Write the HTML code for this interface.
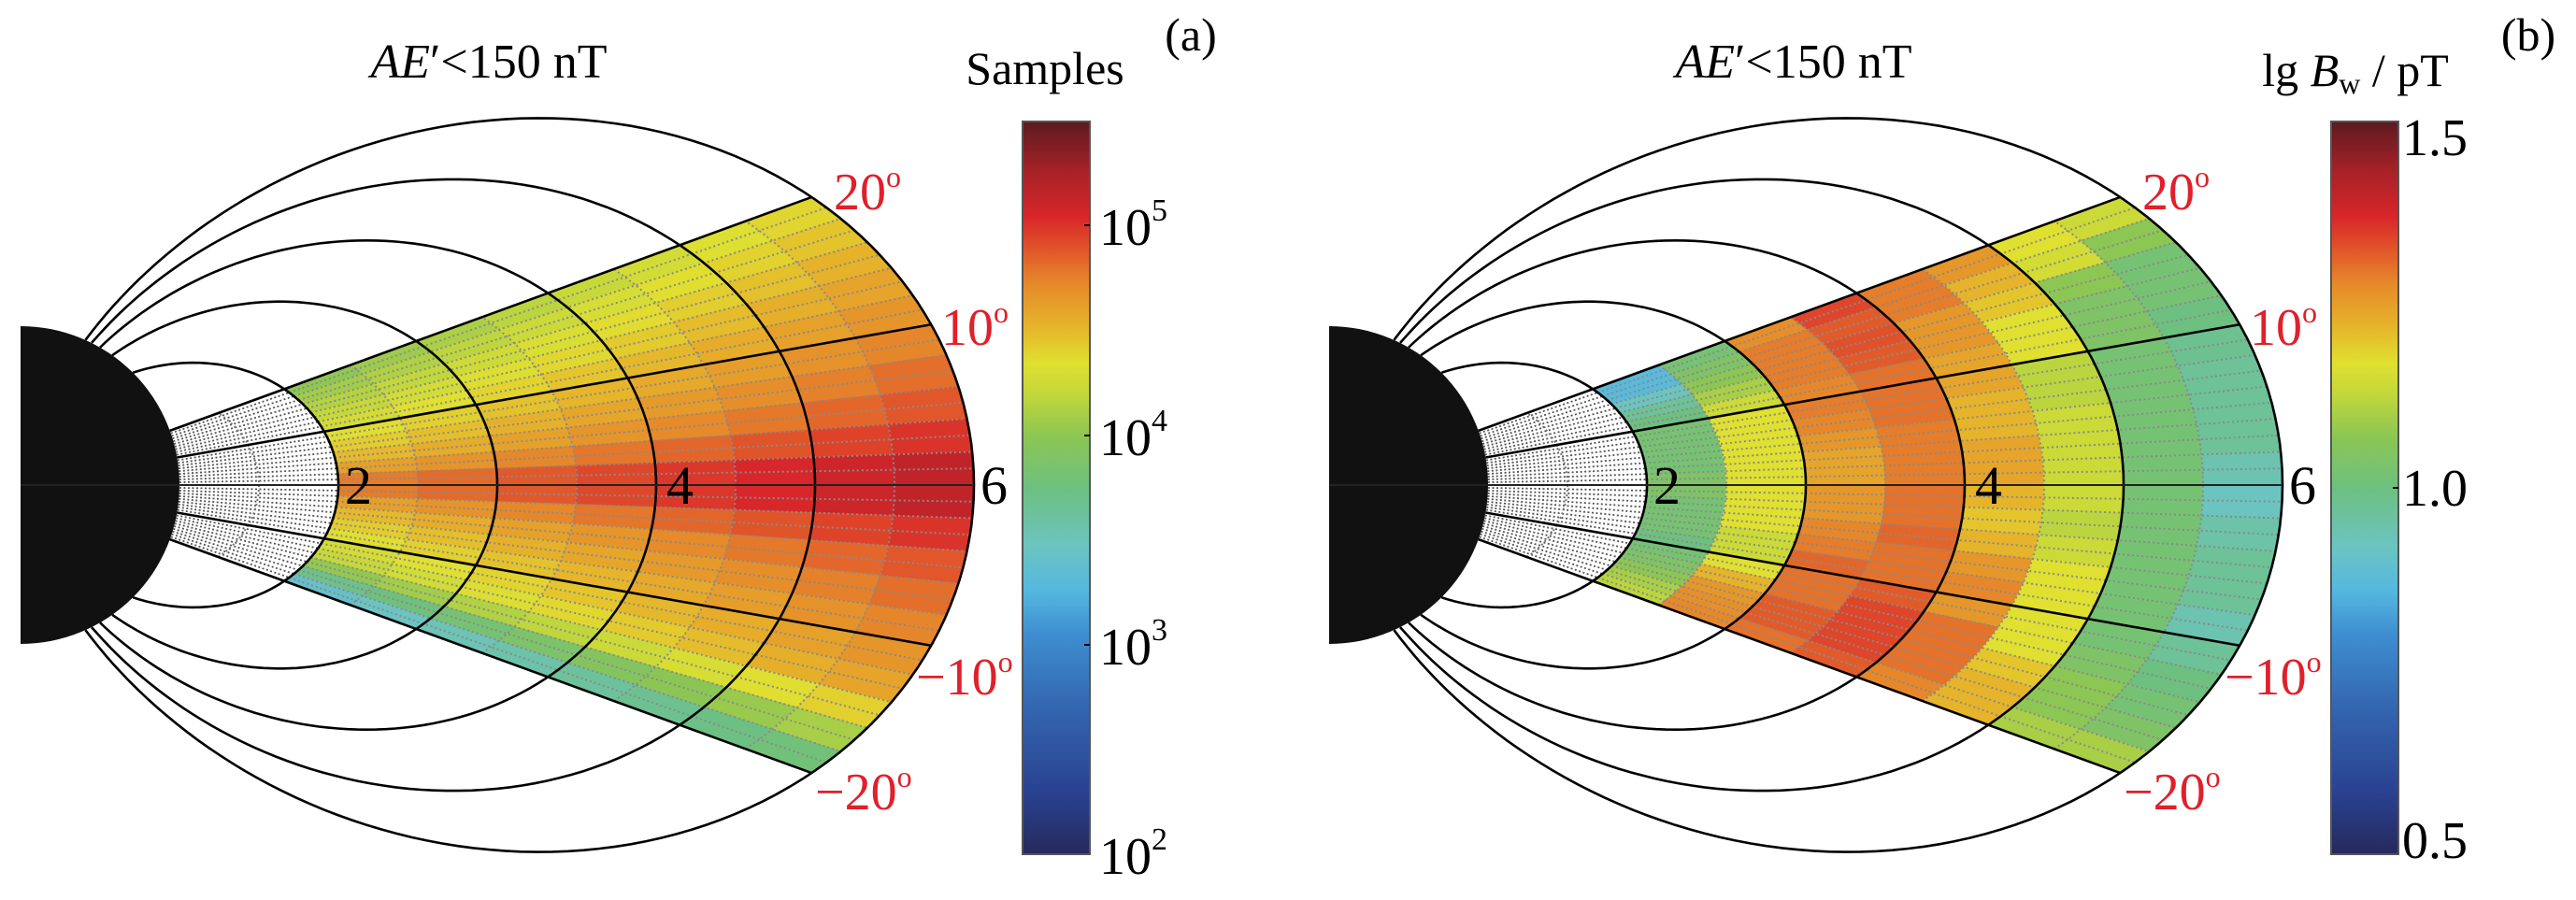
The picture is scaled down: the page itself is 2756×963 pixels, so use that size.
<!DOCTYPE html>
<html><head><meta charset="utf-8">
<style>
html,body{margin:0;padding:0;background:#fff;}
svg{display:block;}
text{font-family:"Liberation Serif","DejaVu Serif",serif;}
</style></head>
<body>
<svg id="s" width="2756" height="963" viewBox="0 0 2756 963" xmlns="http://www.w3.org/2000/svg" font-family="Liberation Serif, DejaVu Serif, serif">
<defs>
<linearGradient id="cm" x1="0" y1="1" x2="0" y2="0">
<stop offset="0" stop-color="#262a5c"/>
<stop offset="0.08" stop-color="#29408f"/>
<stop offset="0.2" stop-color="#3466b0"/>
<stop offset="0.3" stop-color="#3e8ecf"/>
<stop offset="0.36" stop-color="#55b8e0"/>
<stop offset="0.42" stop-color="#6cc4c0"/>
<stop offset="0.5" stop-color="#6dc080"/>
<stop offset="0.57" stop-color="#8cc653"/>
<stop offset="0.63" stop-color="#c4d83a"/>
<stop offset="0.67" stop-color="#e0e030"/>
<stop offset="0.72" stop-color="#e6b42a"/>
<stop offset="0.78" stop-color="#e6882a"/>
<stop offset="0.83" stop-color="#e0502a"/>
<stop offset="0.87" stop-color="#d8262a"/>
<stop offset="0.93" stop-color="#a82228"/>
<stop offset="1" stop-color="#5c1a20"/>
</linearGradient>
</defs>
<g id="pa"></g>
<g id="pb"></g>

<text x="523" y="83" font-size="52" text-anchor="middle"><tspan font-style="italic">AE</tspan>′&lt;150 nT</text>
<text x="1118" y="90" font-size="50" text-anchor="middle">Samples</text>
<text x="1274" y="54" font-size="50" text-anchor="middle">(a)</text>
<rect x="1094" y="130" width="72" height="784" fill="url(#cm)" stroke="#555" stroke-width="2"/>
<line x1="1160" y1="241" x2="1166" y2="241" stroke="#000" stroke-width="2"/>
<line x1="1160" y1="466" x2="1166" y2="466" stroke="#000" stroke-width="2"/>
<line x1="1160" y1="690" x2="1166" y2="690" stroke="#000" stroke-width="2"/>
<text x="1176" y="262" font-size="56">10<tspan font-size="34" dy="-26">5</tspan></text>
<text x="1176" y="487" font-size="56">10<tspan font-size="34" dy="-26">4</tspan></text>
<text x="1176" y="711" font-size="56">10<tspan font-size="34" dy="-26">3</tspan></text>
<text x="1176" y="935" font-size="56">10<tspan font-size="34" dy="-26">2</tspan></text>
<text x="369" y="539" font-size="58">2</text>
<text x="713" y="539" font-size="58">4</text>
<text x="1049" y="539" font-size="58">6</text>
<g fill="#e0202a" font-size="56">
<text x="892" y="224">20<tspan font-size="32" dy="-24">o</tspan></text>
<text x="1007" y="369">10<tspan font-size="32" dy="-24">o</tspan></text>
<text x="980" y="743">−10<tspan font-size="32" dy="-24">o</tspan></text>
<text x="872" y="866">−20<tspan font-size="32" dy="-24">o</tspan></text>
</g>

<text x="1919" y="83" font-size="52" text-anchor="middle"><tspan font-style="italic">AE</tspan>′&lt;150 nT</text>
<text x="2520" y="92" font-size="50" text-anchor="middle">lg <tspan font-style="italic">B</tspan><tspan font-size="32" dy="8">w</tspan><tspan dy="-8"> / pT</tspan></text>
<text x="2705" y="54" font-size="50" text-anchor="middle">(b)</text>
<rect x="2494" y="130" width="72" height="784" fill="url(#cm)" stroke="#555" stroke-width="2"/>
<line x1="2560" y1="522" x2="2566" y2="522" stroke="#000" stroke-width="2"/>
<text x="2570" y="166" font-size="56">1.5</text>
<text x="2570" y="541" font-size="56">1.0</text>
<text x="2570" y="918" font-size="56">0.5</text>
<text x="1769" y="539" font-size="58">2</text>
<text x="2113" y="539" font-size="58">4</text>
<text x="2449" y="539" font-size="58">6</text>
<g fill="#e0202a" font-size="56">
<text x="2292" y="224">20<tspan font-size="32" dy="-24">o</tspan></text>
<text x="2407" y="369">10<tspan font-size="32" dy="-24">o</tspan></text>
<text x="2380" y="743">−10<tspan font-size="32" dy="-24">o</tspan></text>
<text x="2272" y="866">−20<tspan font-size="32" dy="-24">o</tspan></text>
</g>
</svg>
<script>
(function(){
var NS="http://www.w3.org/2000/svg";
var S=170;
var stops=[[0,"#262a5c"],[0.08,"#29408f"],[0.2,"#3466b0"],[0.3,"#3e8ecf"],[0.36,"#55b8e0"],[0.42,"#6cc4c0"],[0.5,"#6dc080"],[0.57,"#8cc653"],[0.63,"#c4d83a"],[0.67,"#e0e030"],[0.72,"#e6b42a"],[0.78,"#e6882a"],[0.83,"#e0502a"],[0.87,"#d8262a"],[0.93,"#a82228"],[1,"#5c1a20"]];
function hx(h){return [parseInt(h.substr(1,2),16),parseInt(h.substr(3,2),16),parseInt(h.substr(5,2),16)];}
function cmap(f){f=Math.max(0,Math.min(1,f));for(var i=1;i<stops.length;i++){if(f<=stops[i][0]){var a=stops[i-1],b=stops[i];var t=(f-a[0])/(b[0]-a[0]);var ca=hx(a[1]),cb=hx(b[1]);return "rgb("+Math.round(ca[0]+(cb[0]-ca[0])*t)+","+Math.round(ca[1]+(cb[1]-ca[1])*t)+","+Math.round(ca[2]+(cb[2]-ca[2])*t)+")";}}return stops[stops.length-1][1];}
function el(g,n,a){var e=document.createElementNS(NS,n);for(var k in a)e.setAttribute(k,a[k]);g.appendChild(e);return e;}
function P(ox,oy,L,lat){var t=lat*Math.PI/180;var r=L*Math.cos(t)*Math.cos(t);return [ox+S*r*Math.cos(t),oy-S*r*Math.sin(t)];}
function R(ox,oy,r,lat){var t=lat*Math.PI/180;return [ox+S*r*Math.cos(t),oy-S*r*Math.sin(t)];}
function fl(ox,oy,L,a,b,n){var p=[];for(var i=0;i<=n;i++){var la=a+(b-a)*i/n;var q=P(ox,oy,L,la);p.push(q[0].toFixed(1)+","+q[1].toFixed(1));}return p;}
var B=[
[0.85,1.0,1.25,1.32,1.27,1.24,1.15,1.12],
[0.85,1.02,1.27,1.3,1.27,1.2,1.13,1.05],
[0.9,1.05,1.27,1.31,1.24,1.18,1.05,1.0],
[0.95,1.08,1.27,1.3,1.24,1.15,1.02,1.0],
[0.98,1.12,1.26,1.28,1.22,1.15,1.02,0.98],
[1.0,1.15,1.27,1.28,1.22,1.1,1.0,0.96],
[1.0,1.15,1.26,1.28,1.2,1.1,1.0,0.95],
[1.0,1.15,1.24,1.27,1.2,1.12,1.0,0.95],
[1.0,1.15,1.22,1.27,1.22,1.12,1.0,0.95],
[1.02,1.15,1.22,1.27,1.22,1.12,1.0,0.92],
[1.02,1.15,1.24,1.28,1.2,1.12,1.0,0.9],
[1.0,1.15,1.24,1.28,1.18,1.1,1.0,0.93],
[1.0,1.15,1.26,1.29,1.2,1.12,1.0,0.95],
[1.0,1.12,1.27,1.28,1.24,1.15,1.0,0.95],
[0.98,1.12,1.29,1.28,1.26,1.15,1.0,0.92],
[1.0,1.15,1.28,1.3,1.24,1.15,1.0,0.95],
[1.02,1.2,1.28,1.32,1.28,1.15,1.02,0.98],
[1.05,1.24,1.3,1.32,1.28,1.18,1.05,1.0],
[1.08,1.25,1.3,1.32,1.28,1.2,1.05,1.02],
[1.1,1.26,1.28,1.3,1.26,1.2,1.08,1.08]];
function valA(L,lat){var v=4.64+0.11*(L-2)-0.035*Math.abs(lat)+0.15*Math.exp(-(lat/3)*(lat/3));if(lat<-14)v-=0.12*(Math.abs(lat)-14);return (v-2)/3.5;}
function panel(id,ox,oy,fn){
var g=document.getElementById(id);
for(var r=0;r<20;r++){var la2=20-2*r,la1=la2-2;
for(var c=0;c<8;c++){var L1=2+0.5*c,L2=L1+0.5;
var f=fn(r,c,(L1+L2)/2,(la1+la2)/2);var col=cmap(f);
var p=fl(ox,oy,L1,la1,la2,4).concat(fl(ox,oy,L2,la2,la1,4));
el(g,"polygon",{points:p.join(" "),fill:col,stroke:col,"stroke-width":"0.8"});}}
for(var la=-19;la<=19;la++){if(la%10===0)continue;var a=P(ox,oy,2,la),b=P(ox,oy,6,la);
el(g,"line",{x1:a[0],y1:a[1],x2:b[0],y2:b[1],stroke:"#8a8a8a","stroke-width":"2","stroke-dasharray":"2,3"});}
[2.5,3.5,4.5,5.5].forEach(function(L){el(g,"polyline",{points:fl(ox,oy,L,-20,20,40).join(" "),fill:"none",stroke:"#8a8a8a","stroke-width":"2","stroke-dasharray":"2,3"});});
for(var la=-19;la<=19;la++){if(la%10===0)continue;var a=R(ox,oy,1,la),b=P(ox,oy,2,la);
el(g,"line",{x1:a[0],y1:a[1],x2:b[0],y2:b[1],stroke:"#555","stroke-width":"1.8","stroke-dasharray":"2,2.5"});}
el(g,"polyline",{points:fl(ox,oy,1.5,-20,20,40).join(" "),fill:"none",stroke:"#777","stroke-width":"2","stroke-dasharray":"2,3"});
[2,3,4,5,6].forEach(function(L){var m=Math.acos(Math.sqrt(1/L))*180/Math.PI;
el(g,"polyline",{points:fl(ox,oy,L,-m,m,160).join(" "),fill:"none",stroke:"#000","stroke-width":"2.6"});});
[-20,-10,10,20].forEach(function(la){var a=R(ox,oy,1,la),b=P(ox,oy,6,la);
el(g,"line",{x1:a[0],y1:a[1],x2:b[0],y2:b[1],stroke:"#000","stroke-width":"2.6"});});
el(g,"path",{d:"M"+ox+","+(oy-S)+" A"+S+","+S+" 0 0 1 "+ox+","+(oy+S)+" Z",fill:"#111"});
el(g,"line",{x1:ox,y1:oy,x2:ox+6*S,y2:oy,stroke:"#222","stroke-width":"2"});
}
panel("pa",22,519,function(r,c,L,lat){return valA(L,lat);});
panel("pb",1422,519,function(r,c,L,lat){return (B[r][c]+0.02-0.5)/1.0;});
})();
</script>
</body></html>
